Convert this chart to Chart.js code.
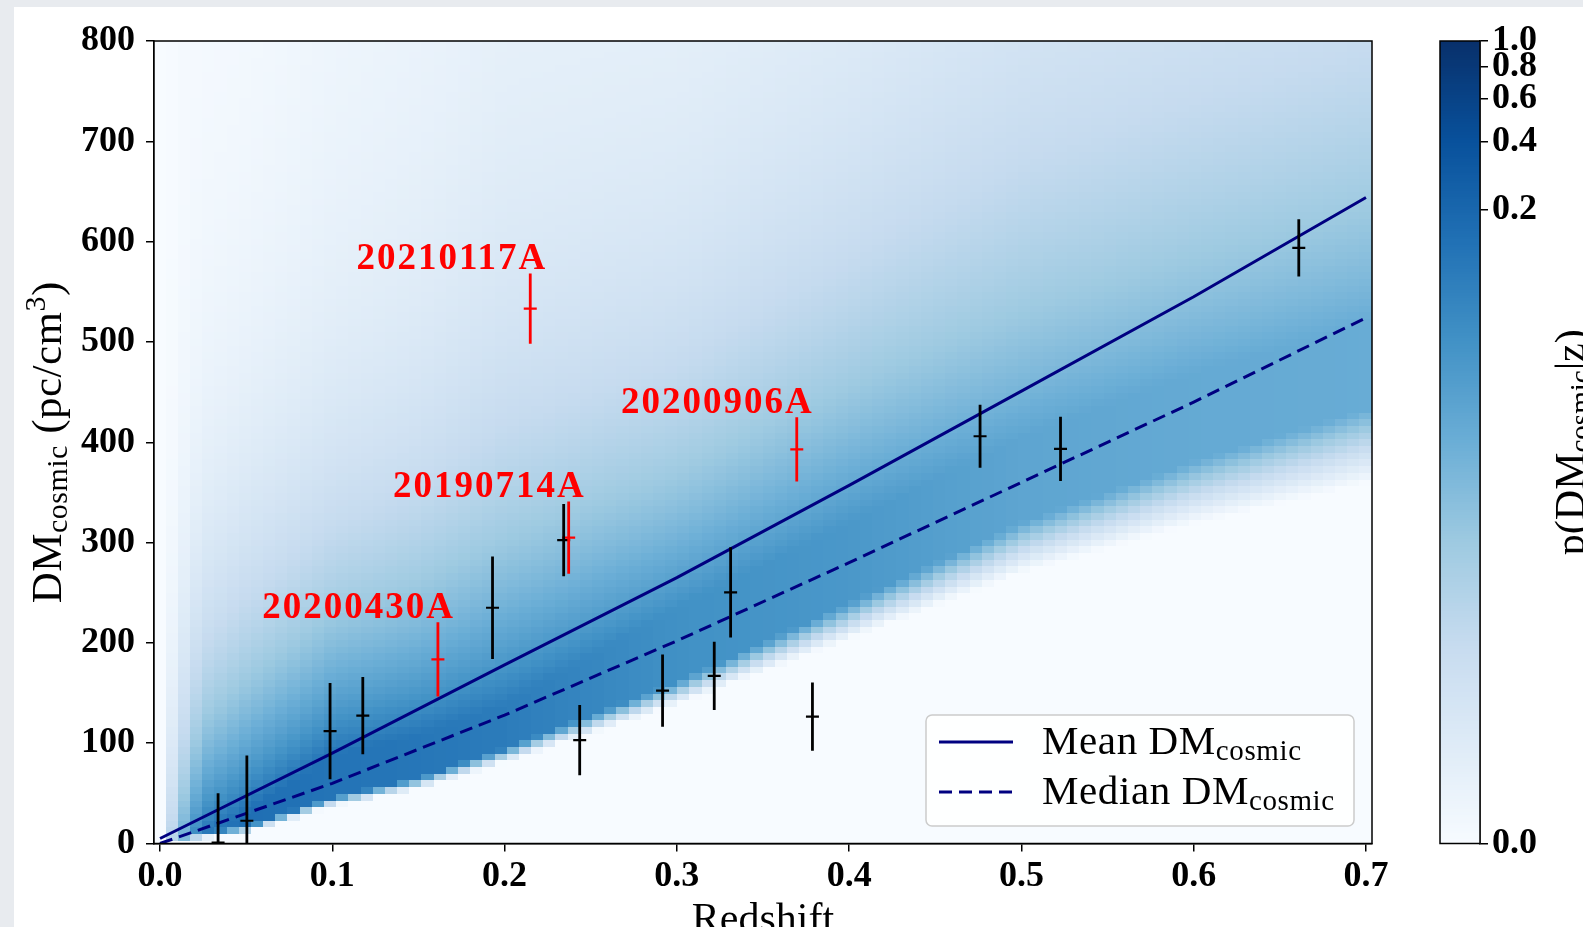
<!DOCTYPE html>
<html lang="en">
<head>
<meta charset="UTF-8">
<title>DM cosmic vs redshift</title>
<script src="https://cdn.jsdelivr.net/npm/chart.js@4.4.0/dist/chart.umd.min.js"></script>
<style>
    html, body { margin: 0; padding: 0; width: 1583px; height: 927px; overflow: hidden; background: #e8ebef; }
    #sheet { position: absolute; left: 14px; top: 7px; right: 0; bottom: 0; background: #fff; }
    #main { position: absolute; left: 0; top: 0; }
    #cbar { position: absolute; left: 1380px; top: 0; }
</style>
</head>
<body>
<div id="sheet"></div>
<canvas id="main" width="1583" height="927"></canvas>
<canvas id="cbar" width="203" height="927"></canvas>
<script>
const SERIF = "'Liberation Serif', 'DejaVu Serif', serif";

// mean / median DM_cosmic along redshift
const redshiftGrid = [0.0, 0.1, 0.2, 0.3, 0.4, 0.5, 0.6, 0.7];
const meanDM   = [5, 90, 178, 265, 357, 451, 545, 644];
const medianDM = [0, 60, 128, 202, 280, 360, 440, 524];

// localised FRBs (black)
const frbZ   = [0.0337, 0.0504, 0.0987, 0.1177, 0.1930, 0.2343, 0.2436, 0.2917, 0.3217, 0.3312, 0.3787, 0.4760, 0.5227, 0.6610];
const frbDM  = [1, 22.7, 112, 127.4, 235, 302.4, 103, 152.3, 167.2, 250.3, 126.4, 406, 393.4, 593.7];
const frbErr = [49, 65, 48, 38.5, 51, 36, 35, 36, 34, 45, 34, 31.5, 32, 28.5];

// highlighted FRBs (red)
const hiNames = ['20200430A', '20210117A', '20190714A', '20200906A'];
const hiZ   = [0.1613, 0.2149, 0.2372, 0.3696];
const hiDM  = [183.6, 533.3, 305, 392.8];
const hiErr = [37, 35, 36, 32];

const xTicks = [0.0, 0.1, 0.2, 0.3, 0.4, 0.5, 0.6, 0.7];
const cbTicks = [0.0, 0.2, 0.4, 0.6, 0.8, 1.0];
const cbGamma = 0.147;

// p(DM|z) band at a few redshifts
const densZ       = [0.000, 0.007, 0.014, 0.021, 0.028, 0.050, 0.100, 0.150, 0.200, 0.300, 0.400, 0.500, 0.600, 0.700, 0.710];
const densEdge    = [0, 3, 5, 7, 9, 14, 42, 60, 88, 150, 222, 295, 350, 396, 400];
const densWidth   = [3, 3, 4, 5, 6, 7, 9, 11, 14, 22, 36, 50, 62, 74, 74];
const densPlateau = [0, 0, 0, 2, 5, 15, 47, 48, 50, 85, 98, 110, 118, 122, 122];
const densPeak    = [0.0, 0.30, 0.50, 0.65, 0.72, 0.76, 0.74, 0.73, 0.71, 0.63, 0.60, 0.54, 0.52, 0.51, 0.51];
const densDecay   = [60, 120, 150, 165, 175, 190, 195, 210, 235, 230, 260, 300, 315, 330, 330];
const densFloor   = [0.0, 0.005, 0.01, 0.01, 0.01, 0.01, 0.03, 0.04, 0.05, 0.05, 0.05, 0.06, 0.055, 0.05, 0.05];

const bluesStops = [[247,251,255],[222,235,247],[198,219,239],[158,202,225],[107,174,214],[66,146,198],[33,113,181],[8,81,156],[8,48,107]];

function blues(t) {
    t = Math.max(0, Math.min(1, t));
    const p = t * 8, k = Math.min(7, Math.floor(p)), f = p - k;
    const a = bluesStops[k], b = bluesStops[k + 1];
    return 'rgb(' + a.map((c, i) => Math.round(c + (b[i] - c) * f)).join(',') + ')';
}

function atZ(arr, z) {
    for (let k = 0; k < densZ.length - 1; k++) {
        if (z <= densZ[k + 1]) {
            const f = (z - densZ[k]) / (densZ[k + 1] - densZ[k]);
            return arr[k] + (arr[k + 1] - arr[k]) * f;
        }
    }
    return arr[arr.length - 1];
}

function density(z, dm) {
    const edge = atZ(densEdge, z), w = atZ(densWidth, z), pl = atZ(densPlateau, z);
    const pk = atZ(densPeak, z), L = atZ(densDecay, z), fl = atZ(densFloor, z);
    const s = Math.min(1, Math.max(0, (dm - edge) / w + 0.5));
    const v = dm < edge + pl ? pk : fl + (pk - fl) * Math.exp(-(dm - edge - pl) / L);
    return v * s;
}

// text with sub/superscripts: parts = [text, size, shift]
function richText(ctx, parts, x, y, angle, align, spacing) {
    ctx.save();
    ctx.translate(x, y);
    ctx.rotate(angle);
    ctx.textBaseline = 'alphabetic';
    ctx.textAlign = 'left';
    ctx.letterSpacing = (spacing || 0) + 'px';
    let total = 0;
    parts.forEach(p => { ctx.font = p[1] + 'px ' + SERIF; total += ctx.measureText(p[0]).width; });
    let cx = align === 'center' ? -total / 2 : 0;
    parts.forEach(p => {
        ctx.font = p[1] + 'px ' + SERIF;
        ctx.fillText(p[0], cx, p[2] || 0);
        cx += ctx.measureText(p[0]).width;
    });
    ctx.restore();
}

const densityPlugin = {
    id: 'density',
    beforeDatasetsDraw(chart) {
        const { ctx, chartArea: a, scales: { x, y } } = chart;
        ctx.save();
        ctx.beginPath();
        ctx.rect(a.left, a.top, a.width, a.height);
        ctx.clip();
        const nz = 100, nd = 121, dz = 0.7 / (nz - 1), dd = 800 / (nd - 1);
        for (let i = 0; i < nz; i++) {
            const z = i * dz;
            const x0 = Math.floor(x.getPixelForValue(z - dz / 2));
            const x1 = Math.ceil(x.getPixelForValue(z + dz / 2));
            for (let j = 0; j < nd; j++) {
                const dm = j * dd;
                const y0 = Math.floor(y.getPixelForValue(dm + dd / 2));
                const y1 = Math.ceil(y.getPixelForValue(dm - dd / 2));
                ctx.fillStyle = blues(density(z, dm));
                ctx.fillRect(x0, y0, x1 - x0, y1 - y0);
            }
        }
        ctx.restore();
    }
};

const decorPlugin = {
    id: 'decor',
    afterDatasetsDraw(chart) {
        const { ctx, chartArea: a, scales: { x, y } } = chart;
        ctx.save();
        ctx.beginPath();
        ctx.rect(a.left, a.top, a.width, a.height);
        ctx.clip();
        // vertical error bars
        chart.data.datasets.forEach(ds => {
            if (!ds.yErr) return;
            ctx.strokeStyle = ds.borderColor;
            ctx.lineWidth = 2.8;
            ds.data.forEach((p, i) => {
                const px = x.getPixelForValue(p.x);
                ctx.beginPath();
                ctx.moveTo(px, y.getPixelForValue(p.y - ds.yErr[i]));
                ctx.lineTo(px, y.getPixelForValue(p.y + ds.yErr[i]));
                ctx.stroke();
            });
        });
        ctx.restore();

        // names of the highlighted bursts
        ctx.save();
        ctx.fillStyle = '#ff0000';
        ctx.font = 'bold 37px ' + SERIF;
        ctx.letterSpacing = '2px';
        ctx.textAlign = 'right';
        ctx.textBaseline = 'alphabetic';
        hiNames.forEach((name, i) => {
            ctx.fillText(name, x.getPixelForValue(hiZ[i]) + 17, y.getPixelForValue(hiDM[i] + hiErr[i]) - 4);
        });
        ctx.restore();

        // frame
        ctx.save();
        ctx.strokeStyle = '#000';
        ctx.lineWidth = 1.5;
        ctx.strokeRect(a.left, a.top, a.width, a.height);
        ctx.restore();

        // legend
        ctx.save();
        const bx = 926, by = 715, bw = 428, bh = 111;
        ctx.beginPath();
        ctx.roundRect(bx, by, bw, bh, 6);
        ctx.fillStyle = 'rgba(255,255,255,0.85)';
        ctx.fill();
        ctx.strokeStyle = '#cccccc';
        ctx.lineWidth = 1.5;
        ctx.stroke();
        ctx.strokeStyle = '#000080';
        ctx.lineWidth = 3;
        ctx.beginPath();
        ctx.moveTo(939, 742); ctx.lineTo(1013, 742);
        ctx.stroke();
        ctx.setLineDash([13, 7]);
        ctx.beginPath();
        ctx.moveTo(939, 792); ctx.lineTo(1013, 792);
        ctx.stroke();
        ctx.setLineDash([]);
        ctx.fillStyle = '#000';
        richText(ctx, [['Mean DM', 41], ['cosmic', 29, 6]], 1042, 754, 0, 'left', 0.6);
        richText(ctx, [['Median DM', 41], ['cosmic', 29, 6]], 1042, 804, 0, 'left', 0.6);
        ctx.restore();
    },
    afterDraw(chart) {
        const ctx = chart.ctx, a = chart.chartArea;
        ctx.save();
        ctx.fillStyle = '#000';
        richText(ctx, [['Redshift', 42]], (a.left + a.right) / 2, 932, 0, 'center');
        richText(ctx, [['DM', 43], ['cosmic', 30, 6], [' (pc/cm', 43], ['3', 30, -16], [')', 43]],
            61, (a.top + a.bottom) / 2, -Math.PI / 2, 'center', 0.5);
        ctx.restore();
    }
};

const tickFont = { family: SERIF, size: 36, weight: 'bold' };

new Chart(document.getElementById('main'), {
    type: 'scatter',
    data: {
        datasets: [
            {
                label: 'Highlighted FRBs',
                data: hiZ.map((z, i) => ({ x: z, y: hiDM[i] })),
                yErr: hiErr,
                pointStyle: 'line',
                pointRadius: 6.5,
                borderColor: '#ff0000',
                pointBorderWidth: 2.2,
            },
            {
                label: 'FRBs',
                data: frbZ.map((z, i) => ({ x: z, y: frbDM[i] })),
                yErr: frbErr,
                pointStyle: 'line',
                pointRadius: 6.5,
                borderColor: '#000000',
                pointBorderWidth: 2.2,
            },
            {
                label: 'Mean DM cosmic',
                data: redshiftGrid.map((z, i) => ({ x: z, y: meanDM[i] })),
                showLine: true,
                pointRadius: 0,
                borderColor: '#000080',
                borderWidth: 3,
            },
            {
                label: 'Median DM cosmic',
                data: redshiftGrid.map((z, i) => ({ x: z, y: medianDM[i] })),
                showLine: true,
                pointRadius: 0,
                borderColor: '#000080',
                borderWidth: 3,
                borderDash: [13, 7],
            },
        ]
    },
    options: {
        responsive: false,
        animation: false,
        layout: { padding: { left: 0, top: 41, right: 211, bottom: 0 } },
        plugins: { legend: { display: false }, tooltip: { enabled: false } },
        scales: {
            x: {
                type: 'linear',
                min: -0.0035,
                max: 0.7035,
                afterBuildTicks: ax => { ax.ticks = xTicks.map(v => ({ value: v })); },
                afterFit: ax => { ax.height = 83.5; },
                ticks: { callback: v => v.toFixed(1), font: tickFont, color: '#000', padding: 4, maxRotation: 0, autoSkip: false },
                grid: { drawOnChartArea: false, tickLength: 8, color: '#000', lineWidth: 1.5 },
                border: { color: '#000', width: 1.5 },
            },
            y: {
                min: 0,
                max: 800,
                afterFit: ax => { ax.width = 154; },
                ticks: { stepSize: 100, font: tickFont, color: '#000', padding: 11 },
                grid: { drawOnChartArea: false, tickLength: 8, color: '#000', lineWidth: 1.5 },
                border: { color: '#000', width: 1.5 },
            }
        }
    },
    plugins: [densityPlugin, decorPlugin]
});

const colorbarPlugin = {
    id: 'colorbar',
    beforeDatasetsDraw(chart) {
        const { ctx, chartArea: a, scales: { y } } = chart;
        ctx.save();
        const n = 300;
        for (let i = 0; i < n; i++) {
            const f0 = i / n, f1 = (i + 1) / n;
            const y0 = Math.floor(y.getPixelForValue(f1)), y1 = Math.ceil(y.getPixelForValue(f0));
            ctx.fillStyle = blues((f0 + f1) / 2);
            ctx.fillRect(a.left, y0, a.width, y1 - y0);
        }
        ctx.strokeStyle = '#000';
        ctx.lineWidth = 1.5;
        ctx.strokeRect(a.left, a.top, a.width, a.height);
        ctx.restore();
    },
    afterDraw(chart) {
        const { ctx, chartArea: a } = chart;
        ctx.save();
        ctx.fillStyle = '#000';
        richText(ctx, [['p(DM', 42], ['cosmic', 29, 6], ['|z)', 42]], 204, (a.top + a.bottom) / 2, -Math.PI / 2, 'center');
        ctx.restore();
    }
};

new Chart(document.getElementById('cbar'), {
    type: 'scatter',
    data: { datasets: [] },
    options: {
        responsive: false,
        animation: false,
        layout: { padding: { left: 60, top: 41, right: 0, bottom: 83.5 } },
        plugins: { legend: { display: false }, tooltip: { enabled: false } },
        scales: {
            x: { display: false, min: 0, max: 1 },
            y: {
                position: 'right',
                min: 0,
                max: 1,
                afterBuildTicks: ax => { ax.ticks = cbTicks.map(v => ({ value: Math.pow(v, cbGamma) })); },
                afterFit: ax => { ax.width = 103; },
                ticks: { callback: v => Math.pow(v, 1 / cbGamma).toFixed(1), font: tickFont, color: '#000', padding: 4, autoSkip: false },
                grid: { drawOnChartArea: false, tickLength: 8, color: '#000', lineWidth: 1.5 },
                border: { color: '#000', width: 1.5 },
            }
        }
    },
    plugins: [colorbarPlugin]
});
</script>
</body>
</html>
